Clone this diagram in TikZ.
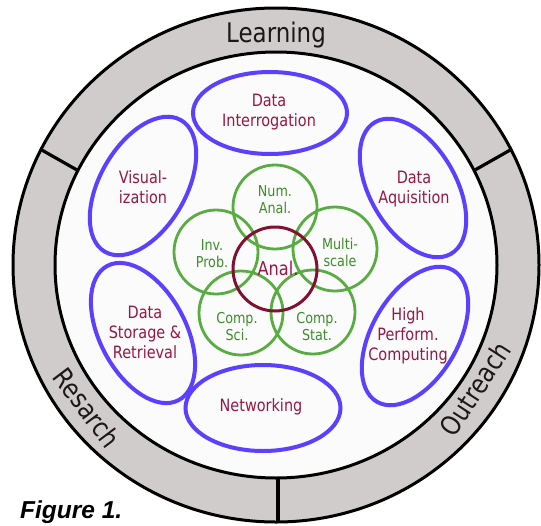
\documentclass[tikz,border=0pt]{standalone}
\usepackage{fontspec}
\setmainfont{DejaVu Sans}[FakeStretch=0.85]
\newfontfamily\figfont{Liberation Sans}
\usetikzlibrary{shapes.geometric}
\definecolor{ringgrey}{RGB}{208,204,204}
\definecolor{innerwhite}{RGB}{251,251,251}
\definecolor{ellblue}{RGB}{92,64,255}
\definecolor{cgreen}{RGB}{88,172,66}
\definecolor{cred}{RGB}{128,18,48}
\definecolor{tred}{RGB}{150,24,66}
\definecolor{tgreen}{RGB}{62,140,42}
\tikzset{
  ringline/.style={line width=3pt, draw=black},
  divline/.style={line width=3.2pt, draw=black},
  blueell/.style={ellipse, draw=ellblue, line width=4pt, inner sep=0pt, minimum width=152pt, minimum height=86pt},
  greencirc/.style={circle, draw=cgreen, line width=2.8pt, minimum size=84pt, inner sep=0pt},
  redcirc/.style={circle, draw=cred, line width=3pt, minimum size=84pt, inner sep=0pt},
  bluetxt/.style={text=tred, align=center, inner sep=0pt, font=\fontsize{17}{20}\selectfont},
  greentxt/.style={text=tgreen, align=center, inner sep=0pt, font=\fontsize{15}{17}\selectfont},
  ringtxt/.style={text=black!90, inner sep=0pt, font=\fontsize{27}{30}\selectfont},
}
\begin{document}
\begin{tikzpicture}[x=1pt,y=-1pt]
\useasboundingbox (0,0) rectangle (541,525);
\fill[white] (0,0) rectangle (541,525);
\coordinate (C) at (276,265);
% ring
\draw[ringline, fill=ringgrey] (C) ellipse [x radius=263, y radius=257];
\draw[ringline, fill=innerwhite] (C) ellipse [x radius=221, y radius=213];
% dividers
\coordinate (d1o) at (512,149);
\coordinate (d1i) at (475,170);
\coordinate (d2o) at (40,149);
\coordinate (d2i) at (77,170);
\coordinate (d3o) at (278,523);
\coordinate (d3i) at (278,477);
\draw[divline] (d1i) -- (d1o);
\draw[divline] (d2i) -- (d2o);
\draw[divline] (d3i) -- (d3o);
% ring labels
\node[ringtxt, anchor=base] (learn) at (276,42) {Learning};
\node[ringtxt, rotate=-53] (res) at (87,408) {Resarch};
\node[ringtxt, rotate=57] (out) at (475,389) {Outreach};
% blue ellipses
\node[blueell, minimum width=154pt, minimum height=82pt] (interr) at (270,113) {};
\node[blueell] (acq) at (413,188) [rotate=-60] {};
\node[blueell] (hpc) at (415,336) [rotate=60] {};
\node[blueell, minimum width=155pt, minimum height=86pt] (net) at (263,408) {};
\node[blueell] (stor) at (143,333) [rotate=-62] {};
\node[blueell] (vis) at (143,186) [rotate=60] {};
% green circles
\node[greencirc] (num) at (275,207) {};
\node[greencirc] (inv) at (216,252) {};
\node[greencirc] (multi) at (335,249) {};
\node[greencirc] (csci) at (241,313) {};
\node[greencirc] (cstat) at (313,312) {};
\node[redcirc] (anal) at (275,269) {};
% blue texts
\node[bluetxt] (tinterr) at (269,112) {Data\\Interrogation};
\node[bluetxt] (tvis) at (143,187) {Visual-\\ization};
\node[bluetxt] (tacq) at (414,189) {Data\\Aquisition};
\node[bluetxt] (tstor) at (145,332) {Data\\Storage \&\\Retrieval};
\node[bluetxt] (thpc) at (408,336) {High\\Perform.\\Computing};
\node[bluetxt] (tnet) at (261,407) {Networking};
% green texts
\node[greentxt] (tnum) at (275,200) {Num.\\Anal.};
\node[greentxt] (tinv) at (212,254) {Inv.\\Prob.};
\node[greentxt] (tmulti) at (340,252) {Multi-\\scale};
\node[greentxt] (tcsci) at (237,327) {Comp.\\Sci.};
\node[greentxt] (tcstat) at (317,327) {Comp.\\Stat.};
\node[text=tred, inner sep=0pt, font=\fontsize{19}{20}\selectfont] (tanal) at (278,268) {Anal.};
% caption
\node[anchor=base west, inner sep=0pt, font=\figfont\bfseries\itshape\fontsize{24.5}{26}\selectfont] (fig) at (20,518) {Figure 1.};
\end{tikzpicture}
\end{document}
